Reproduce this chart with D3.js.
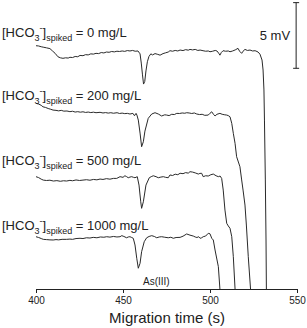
<!DOCTYPE html>
<html>
<head>
	<meta http-equiv="Content-Type" content="text/html;charset=UTF-8">
	<title>Electropherograms</title>
	<style>
		body { margin: 0; background: #fff; }
		svg text { font-family: "Liberation Sans", Arial, sans-serif; fill: #222; }
		.trace { fill: none; stroke: #2a2a2a; stroke-width: 1; stroke-linejoin: round; }
		.x-axis path, .x-axis line { stroke: #222; }
	</style>
</head>
<body>
	<div class="drawing"></div>

	<script src="https://d3js.org/d3.v7.min.js"></script>
	<script type="text/javascript">
		/* data: [migration time (s), signal (mV)] */
		var trace0 = [[400,18.52],[401.5,18.5],[403,18.44],[404.5,18.4],[406,18.36],[408,18.3],[409.5,18.12],[411,17.94],[412.6,17.68],[414,17.6],[415.5,17.56],[417,17.6],[418.5,17.58],[419.5,17.64],[421,17.62],[422.5,17.7],[424,17.68],[425.3,17.78],[427,17.76],[428.5,17.84],[430,17.82],[431.5,17.9],[433,17.88],[434.5,17.94],[436,17.92],[437.5,18.0],[439,17.97],[440.5,18.04],[442,18.02],[443.5,18.08],[445,18.05],[446.5,18.1],[448,18.08],[449.5,18.12],[451,18.09],[452.5,18.15],[454,18.12],[455.5,18.16],[457,18.1],[458.6,18.12],[459.8,17.9],[460.5,17.2],[461.2,16.3],[461.8,15.6],[462.5,15.8],[463.2,16.6],[464,17.3],[464.9,17.7],[466,17.9],[467,17.82],[468.4,17.92],[470,17.86],[471.3,17.8],[473,17.92],[474.5,17.98],[476,18.04],[477,18.14],[478.5,18.1],[480,18.16],[481.5,18.12],[482.8,18.19],[484.5,18.15],[486,18.22],[487.5,18.18],[488.5,18.24],[490,18.2],[491.5,18.24],[493,18.16],[494.3,18.19],[496,18.14],[497.5,18.1],[499,18.12],[500,18.06],[501.5,18.1],[503,18.16],[504,18.12],[505,17.95],[505.7,17.8],[506.5,18.0],[507.5,18.14],[509,18.1],[510.5,18.12],[511.5,18.06],[513,18.12],[514.5,18.2],[516.1,18.32],[517,18.1],[518.2,17.94],[519,18.1],[520.1,18.24],[521.5,18.16],[523,18.19],[524.5,18.12],[525.9,18.14],[527,18.08],[527.6,18.04],[528.7,17.88],[529.9,17.43],[530.5,16.67],[531,15.15],[531.3,12.86],[531.8,8.3],[532.2,3.73],[532.4,0]];

		var trace200 = [[400,14.13],[401.5,14.08],[403,13.98],[404,13.87],[405.5,13.82],[407,13.74],[408.5,13.68],[409.8,13.62],[411.5,13.6],[413,13.56],[414.5,13.6],[416,13.54],[417.8,13.55],[419.5,13.5],[421,13.53],[422.5,13.47],[424,13.5],[425.5,13.46],[427,13.49],[428.5,13.44],[430,13.47],[431.5,13.43],[433,13.46],[434.5,13.42],[436.8,13.45],[438.5,13.4],[440,13.43],[441.5,13.39],[443,13.42],[444.5,13.38],[446.6,13.42],[448,13.36],[449.5,13.39],[451,13.35],[452.5,13.37],[454,13.32],[455.7,13.37],[456.6,13.19],[457.5,13.37],[458,13.24],[458.8,12.86],[459.8,11.87],[460.7,10.83],[461.7,11.21],[462.6,12.02],[464.5,12.99],[466.5,13.32],[468.4,13.42],[470.3,13.32],[472.2,13.17],[474,13.26],[475.1,13.24],[476.5,13.2],[478,13.3],[479.5,13.28],[480.9,13.37],[482.5,13.36],[484,13.4],[485.5,13.38],[486.6,13.42],[488,13.4],[489.5,13.36],[491,13.4],[492.4,13.32],[494,13.28],[495.5,13.3],[497,13.22],[499,13.24],[500,13.38],[501,13.49],[502,13.3],[502.9,13.17],[504,13.3],[505.7,13.37],[507,13.3],[508.5,13.26],[509.6,13.24],[510.5,13.2],[511.5,13.11],[512.5,12.61],[513.4,11.85],[514.4,11.09],[515.3,10.07],[517.2,9.31],[518.2,8.3],[519,7.53],[520.1,6.39],[520.9,4.87],[522,2.46],[523.3,0]];

		var trace500 = [[400,8.55],[401.5,8.48],[403,8.36],[404.2,8.29],[406,8.26],[408,8.28],[410,8.22],[412,8.25],[414,8.2],[415.8,8.24],[417.6,8.22],[419.5,8.27],[421,8.24],[423,8.3],[425,8.26],[427,8.29],[429,8.32],[431,8.28],[433,8.34],[435,8.31],[436.8,8.37],[438.5,8.34],[440.5,8.4],[442.5,8.36],[444.5,8.42],[446.4,8.42],[448.3,8.55],[450,8.5],[451.1,8.62],[452,8.56],[453,8.47],[454,8.52],[455,8.55],[456,8.5],[456.9,8.47],[458.2,8.55],[459.2,7.91],[460.2,6.64],[460.7,6.14],[461.7,6.64],[463.2,7.91],[465.1,8.47],[466.2,8.55],[467.4,8.62],[469,8.55],[470.3,8.47],[471.8,8.52],[473.2,8.55],[474.5,8.5],[476,8.47],[477,8.68],[478.5,8.64],[480,8.74],[481.5,8.7],[482.8,8.81],[484.5,8.78],[486,8.86],[487.5,8.82],[488.5,8.93],[490,8.9],[491.5,8.84],[493.3,8.75],[494.2,8.8],[495.2,8.81],[496.1,8.55],[497.5,8.62],[499,8.6],[500.5,8.7],[501.9,8.75],[503.5,8.62],[504.8,8.55],[505.8,8.6],[506.7,8.42],[507.6,7.53],[508.6,6.01],[509.6,5.0],[510.5,4.8],[511.5,4.62],[512.5,3.98],[513.4,2.46],[514.4,0]];

		var trace1000 = [[400,3.98],[401.5,3.92],[403,3.84],[404.2,3.78],[406,3.76],[408,3.74],[409.9,3.73],[411.5,3.76],[413,3.74],[415,3.78],[417.6,3.78],[419.5,3.8],[421,3.78],[423,3.84],[425.3,3.86],[427,3.84],[429,3.9],[431,3.88],[432.9,3.93],[435,3.9],[437,3.96],[439,3.94],[440.6,3.98],[442.5,3.95],[444.5,4.0],[446.5,3.96],[448.3,3.98],[449.3,4.06],[450.5,4.0],[452.1,3.9],[453,3.96],[454,3.98],[455,3.92],[455.9,3.86],[456.9,3.35],[457.9,2.34],[458.8,1.58],[459.8,1.96],[460.7,2.84],[462.2,3.6],[463.6,3.9],[465,4.0],[466.5,4.06],[468,4.0],[469.4,3.9],[470.8,3.96],[472.2,3.98],[474,3.94],[476,3.9],[477.5,3.94],[478.9,3.86],[480.5,3.92],[482.8,3.93],[484.5,4.02],[486.6,4.19],[488.5,4.1],[490.4,4.03],[491.5,3.96],[492.5,3.92],[493.5,3.98],[494.3,3.86],[495.2,3.9],[496.1,3.98],[497.5,4.03],[499,4.24],[500,4.2],[501,3.86],[501.9,3.73],[502.9,2.97],[504.8,1.7],[505.7,0]];

		var concentrations = ["0", "200", "500", "1000"];
		var traces = [trace0, trace200, trace500, trace1000];
		var xTicks = [400, 450, 500, 550];
		var scaleBar = [16.8, 21.8];   /* 5 mV */
		var peakName = "As(III)";

		var w = 307;
		var h = 328;
		var labelY = [37, 100, 165, 230];

		var SVG = d3.select("div.drawing").append("svg")
					.attr("width", w)
					.attr("height", h);

		var XScale = d3.scaleLinear().domain([400, 550]).range([36, 297]);
		var YScale = d3.scaleLinear().domain([0, 22]).range([289, 0]);

		function renderAxis(){
			var XAxis = d3.axisBottom(XScale)
						  .tickValues(xTicks)
						  .tickSize(4)
						  .tickSizeOuter(0)
						  .tickPadding(4)
						  .tickFormat(d3.format("d"));

			var g = SVG.append("g")
				.attr("class", "x-axis")
				.attr("transform", "translate(0," + YScale(0) + ")")
				.call(XAxis);
			g.selectAll("text")
				.style("font-family", "'Liberation Sans', Arial, sans-serif")
				.style("font-size", "10px")
				.attr("fill", "#222");

			SVG.append("text")
				.attr("x", 167)
				.attr("y", 323)
				.attr("text-anchor", "middle")
				.style("font-size", "15px")
				.text("Migration time (s)");
		}

		function renderTraces(){
			var line = d3.line()
						 .x(function(d){ return XScale(d[0]); })
						 .y(function(d){ return YScale(d[1]); });

			SVG.selectAll("path.trace")
				.data(traces)
				.enter().append("path")
				.attr("class", "trace")
				.attr("d", line);

			/* labels */
			concentrations.forEach(function(c, i){
				var t = SVG.append("text")
					.attr("x", 2)
					.attr("y", labelY[i])
					.style("font-size", "13px");
				t.append("tspan").text("[HCO");
				t.append("tspan").attr("dy", 4).style("font-size", "9px").text("3");
				t.append("tspan").attr("dy", -10).style("font-size", "9px").text("-");
				t.append("tspan").attr("dy", 6).text("]");
				t.append("tspan").attr("dy", 4).style("font-size", "9px").text("spiked");
				t.append("tspan").attr("dy", -4).text(" = " + c + " mg/L");
			});

			SVG.append("text")
				.attr("x", 143)
				.attr("y", 285)
				.style("font-size", "10px")
				.text(peakName);
		}

		function renderScaleBar(){
			var x = XScale(549.5);
			var g = SVG.append("g").attr("stroke", "#222");
			g.append("line")
				.attr("x1", x).attr("x2", x)
				.attr("y1", YScale(scaleBar[0])).attr("y2", YScale(scaleBar[1]));
			g.selectAll("line.cap")
				.data(scaleBar)
				.enter().append("line")
				.attr("class", "cap")
				.attr("x1", x - 3).attr("x2", x + 3)
				.attr("y1", function(d){ return YScale(d); })
				.attr("y2", function(d){ return YScale(d); });

			SVG.append("text")
				.attr("x", x - 6)
				.attr("y", YScale((scaleBar[0] + scaleBar[1]) / 2) + 5)
				.attr("text-anchor", "end")
				.style("font-size", "13px")
				.text("5 mV");
		}

		renderTraces();
		renderAxis();
		renderScaleBar();
	</script>
</body>
</html>
